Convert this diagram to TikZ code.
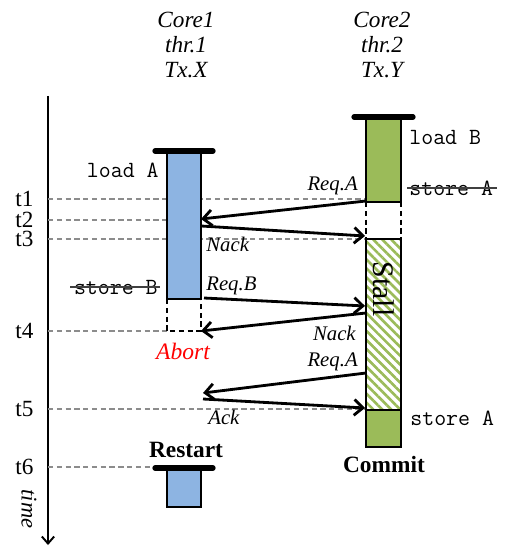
\documentclass[tikz,border=0pt]{standalone}
\usepackage{fontspec}
\setmainfont{Liberation Serif}
\usepackage{xcolor}
\usetikzlibrary{arrows.meta,patterns.meta}

\definecolor{txblue}{HTML}{8DB4E2}
\definecolor{txgreen}{HTML}{9BBB59}
\definecolor{tgrey}{HTML}{8C8C8C}

\tikzset{
	msg/.style={line width=1.6pt, -{Straight Barb[length=5pt,width=9pt]}},
	tline/.style={tgrey, dash pattern=on 3pt off 2pt, line width=0.6pt},
	bar/.style={draw, line width=1.1pt},
	barcap/.style={line width=3pt, line cap=round},
	gone/.style={line width=1.1pt, dash pattern=on 3pt off 2pt},
	lbl/.style={font=\fontsize{11.8}{13}\selectfont\itshape, inner sep=0pt},
	codetxt/.style={font=\fontsize{13.2}{15}\selectfont\ttfamily, inner sep=0pt},
	tlabel/.style={font=\fontsize{13.2}{15}\selectfont, inner sep=0pt, anchor=west},
	strike/.style={line width=1.5pt, black!75},
}

\begin{document}
\begin{tikzpicture}[x=0.02cm, y=-0.02cm]
	\useasboundingbox (0,0) rectangle (504,546);

	% headers
	\node[font=\fontsize{13.2}{14.2}\selectfont\itshape, align=center] at (186,45) (hx) {Core1\\thr.1\\Tx.X};
	\node[font=\fontsize{13.2}{14.2}\selectfont\itshape, align=center] at (382,45) (hy) {Core2\\thr.2\\Tx.Y};

	% time axis
	\coordinate (axtop) at (48,96);
	\coordinate (axbot) at (48,545);
	\draw[line width=1.1pt, -{Straight Barb[length=4pt,width=7pt]}] (axtop) -- (axbot);
	\node[font=\fontsize{12.8}{14}\selectfont\itshape, rotate=-90] at (29,509) (time) {time};

	\node[tlabel] at (15,199) (t1) {t1};
	\node[tlabel] at (15,220) (t2) {t2};
	\node[tlabel] at (15,239) (t3) {t3};
	\node[tlabel] at (15,331) (t4) {t4};
	\node[tlabel] at (15,409) (t5) {t5};
	\node[tlabel] at (15,467) (t6) {t6};

	\draw[tline] (t1 -| axtop) -- (366,199);
	\draw[tline] (t2 -| axtop) -- (167,220);
	\draw[tline] (t3 -| axtop) -- (366,239);
	\draw[tline] (t4 -| axtop) -- (167,331);
	\draw[tline] (t5 -| axtop) -- (366,409);
	\draw[tline] (t6 -| axtop) -- (160,467);

	% thread 1
	\draw[bar, fill=txblue] (167,151) rectangle (201,299);
	\draw[gone] (167,299) -- (167,331) -- (201,331) -- (201,299);
	\draw[barcap] (155,151) -- (213,151);
	\draw[bar, fill=txblue] (167,468) rectangle (201,507);
	\draw[barcap] (155,468) -- (213,468);

	% thread 2
	\draw[bar, fill=txgreen] (366,117) rectangle (401,202);
	\draw[gone] (366,202) -- (366,239) (401,202) -- (401,239);
	\draw[bar, pattern={Lines[angle=-45,distance=3.6pt,line width=1.5pt]}, pattern color=txgreen] (366,239) rectangle (401,410);
	\draw[bar, fill=txgreen] (366,410) rectangle (401,447);
	\draw[barcap] (354,117) -- (413,117);
	\node[font=\fontsize{17}{19}\selectfont, rotate=-90] at (384,289) (stall) {Stall};

	% operations
	\node[codetxt, anchor=east] at (159,170) (ldA) {load A};
	\node[codetxt, anchor=east] at (158,287) (stB) {store B};
	\draw[strike] ([xshift=-2pt]stB.west) -- ([xshift=1pt]stB.east);
	\node[codetxt, anchor=west] at (409,137) (ldB) {load B};
	\node[codetxt, anchor=west] at (409,188) (stA1) {store A};
	\draw[strike] ([xshift=-1pt]stA1.west) -- ([xshift=2pt]stA1.east);
	\node[codetxt, anchor=west] at (410,418) (stA2) {store A};

	% messages
	\coordinate (y1) at (366,201);
	\coordinate (x1) at (201,219);
	\coordinate (x2) at (201,226);
	\coordinate (y2) at (365,236);
	\coordinate (x3) at (204,298);
	\coordinate (y3) at (365,306);
	\coordinate (y4) at (366,313);
	\coordinate (x4) at (201,331);
	\coordinate (y5) at (366,373);
	\coordinate (x5) at (203,393);
	\coordinate (x6) at (203,399);
	\coordinate (y6) at (365,408);
	\draw[msg] (y1) -- (x1);
	\draw[msg] (x2) -- (y2);
	\draw[msg] (x3) -- (y3);
	\draw[msg] (y4) -- (x4);
	\draw[msg] (y5) -- (x5);
	\draw[msg] (x6) -- (y6);

	\node[lbl, anchor=east] at (358,186) (rqA1) {Req.A};
	\node[lbl, anchor=west] at (206,244) (nk1) {Nack};
	\node[lbl, anchor=west] at (206,286) (rqB) {Req.B};
	\node[lbl, anchor=east] at (356,333) (nk2) {Nack};
	\node[lbl, anchor=east] at (358,362) (rqA2) {Req.A};
	\node[lbl, anchor=west] at (208,417) (ack) {Ack};

	% outcomes
	\node[font=\fontsize{13.4}{15}\selectfont\itshape, text=red] at (183,351) (abort) {Abort};
	\node[font=\fontsize{13.3}{15}\selectfont\bfseries] at (186,450) (restart) {Restart};
	\node[font=\fontsize{13.3}{15}\selectfont\bfseries] at (384,465) (commit) {Commit};
\end{tikzpicture}
\end{document}
